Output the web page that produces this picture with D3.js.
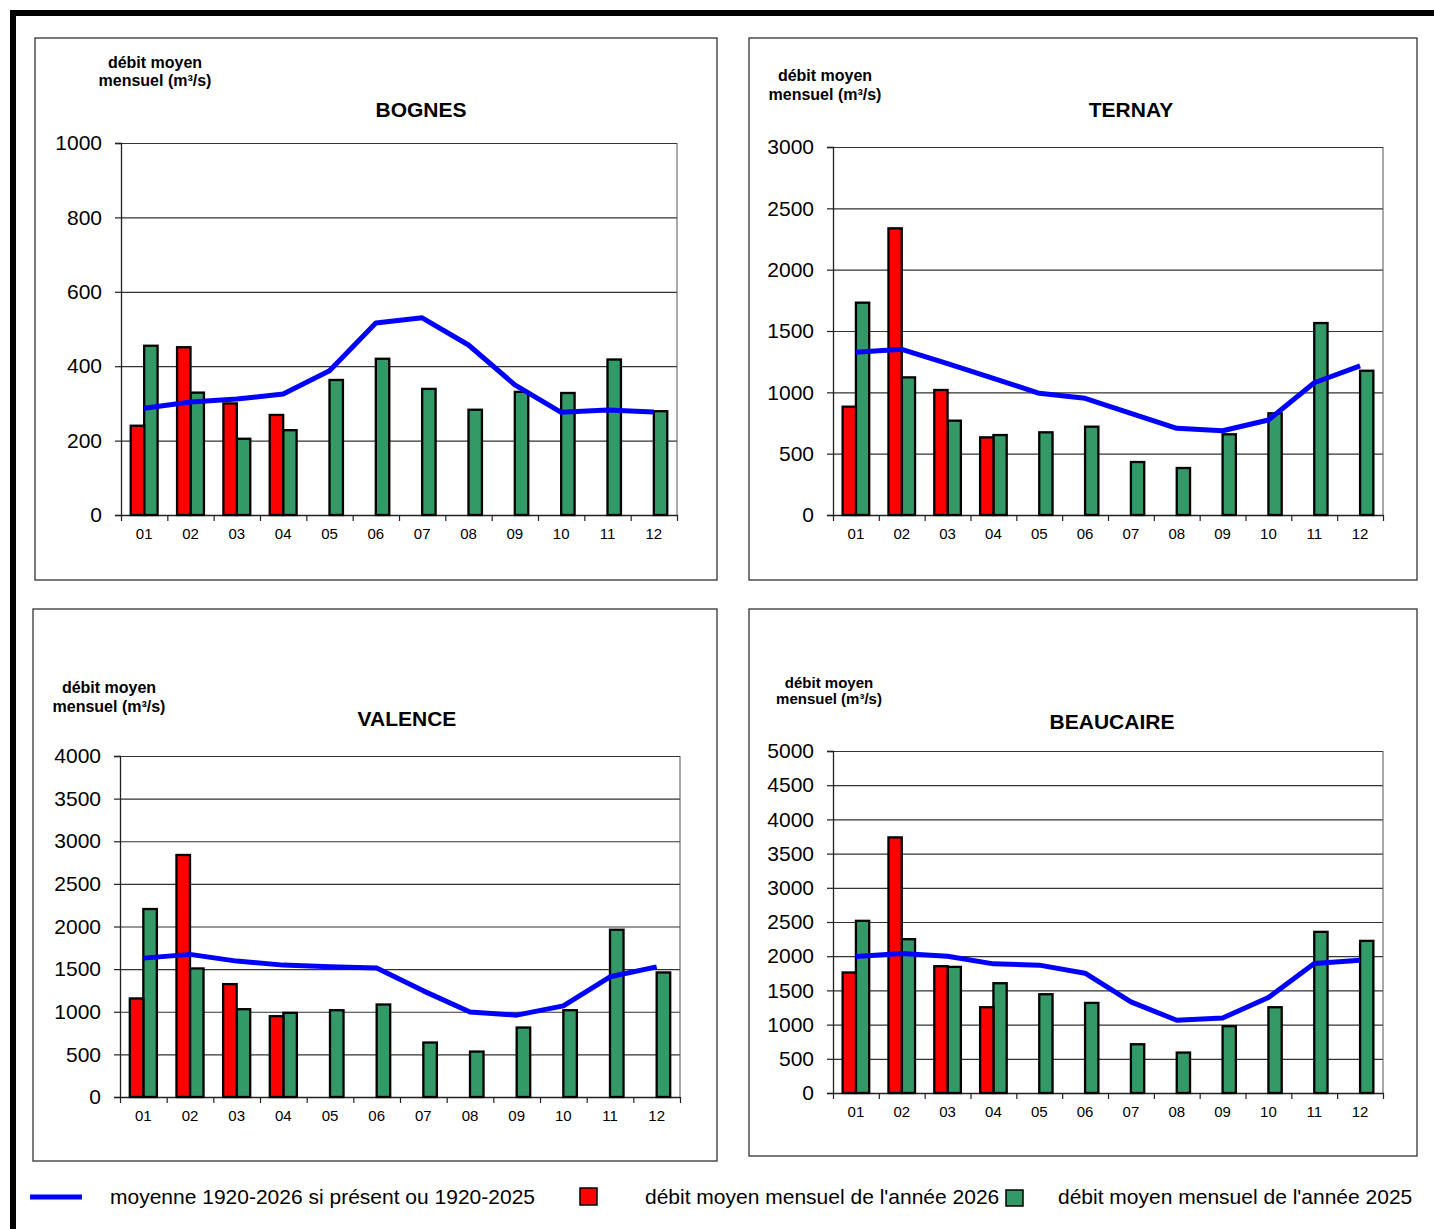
<!DOCTYPE html>
<html>
<head>
<meta charset="utf-8">
<script src="https://cdn.jsdelivr.net/npm/d3@7"></script>
<style>
    body { margin: 0; background: #fff; }
    text { font-family: "Liberation Sans", Arial, sans-serif; }
</style>
</head>
<body>
<div id="chart"></div>
<script>
// months on the x axis
var months = ["01", "02", "03", "04", "05", "06", "07", "08", "09", "10", "11", "12"];

// BOGNES
var bognes2026 = [240, 451, 300, 269];
var bognes2025 = [455, 329, 205, 228, 363, 420, 339, 283, 331, 328, 418, 279];
var bognesMean = [287, 304, 312, 325, 388, 516, 530, 457, 350, 276, 282, 277];
var bognesTicks = [0, 200, 400, 600, 800, 1000];

// TERNAY
var ternay2026 = [883, 2337, 1019, 633];
var ternay2025 = [1731, 1122, 769, 652, 674, 720, 432, 383, 658, 829, 1565, 1176];
var ternayMean = [1326, 1351, 1234, 1114, 992, 951, 829, 707, 687, 774, 1078, 1215];
var ternayTicks = [0, 500, 1000, 1500, 2000, 2500, 3000];

// VALENCE
var valence2026 = [1156, 2839, 1324, 948];
var valence2025 = [2205, 1508, 1030, 987, 1018, 1085, 639, 533, 815, 1018, 1962, 1461];
var valenceMean = [1629, 1673, 1594, 1547, 1527, 1512, 1245, 998, 960, 1069, 1410, 1527];
var valenceTicks = [0, 500, 1000, 1500, 2000, 2500, 3000, 3500, 4000];

// BEAUCAIRE
var beaucaire2026 = [1762, 3737, 1854, 1254];
var beaucaire2025 = [2517, 2249, 1844, 1605, 1444, 1317, 713, 591, 976, 1254, 2356, 2224];
var beaucaireMean = [1996, 2040, 2000, 1888, 1869, 1752, 1332, 1064, 1097, 1396, 1893, 1942];
var beaucaireTicks = [0, 500, 1000, 1500, 2000, 2500, 3000, 3500, 4000, 4500, 5000];

var legendLabels = ["moyenne 1920-2026 si présent ou 1920-2025",
    "débit moyen mensuel de l'année 2026",
    "débit moyen mensuel de l'année 2025"];

var RED = "#ff0000", GREEN = "#339966", BLUE = "#0000ff";

// layout of the four panels
var panels = [
    { name: "BOGNES", y26: bognes2026, y25: bognes2025, mean: bognesMean, ticks: bognesTicks,
      box: [35, 38, 717, 580], px: [121, 677], py: [515, 143], title: [421, 117], lab: [155, 68, 18, 16] },
    { name: "TERNAY", y26: ternay2026, y25: ternay2025, mean: ternayMean, ticks: ternayTicks,
      box: [749, 38, 1417, 580], px: [833, 1383], py: [515, 147], title: [1131, 117], lab: [825, 81, 19, 16] },
    { name: "VALENCE", y26: valence2026, y25: valence2025, mean: valenceMean, ticks: valenceTicks,
      box: [33, 609, 717, 1161], px: [120, 680], py: [1097, 756], title: [407, 726], lab: [109, 693, 19, 16] },
    { name: "BEAUCAIRE", y26: beaucaire2026, y25: beaucaire2025, mean: beaucaireMean, ticks: beaucaireTicks,
      box: [749, 609, 1417, 1156], px: [833, 1383], py: [1093, 751], title: [1112, 729], lab: [829, 688, 16, 15] }
];

function init() {
    var svg = d3.select("#chart")
        .append("svg")
        .attr("width", 1434)
        .attr("height", 1229);

    // outer thick frame (top and left)
    svg.append("rect").attr("x", 10).attr("y", 10).attr("width", 1424).attr("height", 6).attr("fill", "#000");
    svg.append("rect").attr("x", 10).attr("y", 10).attr("width", 6).attr("height", 1219).attr("fill", "#000");

    panels.forEach(function (p) { drawPanel(svg, p); });

    // legend
    var lg = svg.append("g");
    lg.append("line").attr("x1", 30).attr("x2", 82).attr("y1", 1197).attr("y2", 1197)
        .attr("stroke", BLUE).attr("stroke-width", 5);
    lg.append("text").attr("x", 110).attr("y", 1204).attr("font-size", 21).text(legendLabels[0]);
    lg.append("rect").attr("x", 580).attr("y", 1188).attr("width", 17).attr("height", 17)
        .attr("fill", RED).attr("stroke", "#000").attr("stroke-width", 1.5);
    lg.append("text").attr("x", 645).attr("y", 1204).attr("font-size", 21).text(legendLabels[1]);
    lg.append("rect").attr("x", 1006).attr("y", 1190).attr("width", 17).attr("height", 16)
        .attr("fill", GREEN).attr("stroke", "#000").attr("stroke-width", 1.5);
    lg.append("text").attr("x", 1058).attr("y", 1204).attr("font-size", 21).text(legendLabels[2]);
}

function drawPanel(svg, p) {
    var g = svg.append("g");

    g.append("rect")
        .attr("x", p.box[0]).attr("y", p.box[1])
        .attr("width", p.box[2] - p.box[0]).attr("height", p.box[3] - p.box[1])
        .attr("fill", "none").attr("stroke", "#333").attr("stroke-width", 1.3);

    var x = d3.scaleBand().domain(months).range(p.px).paddingInner(0).paddingOuter(0);
    var xb = d3.scaleLinear().domain([0, 12]).range(p.px);
    var y = d3.scaleLinear().domain([0, d3.max(p.ticks)]).range(p.py);
    var bw = x.bandwidth();
    var barW = bw * 0.29;

    // gridlines
    g.append("g")
        .attr("transform", "translate(" + p.px[0] + ",0)")
        .call(d3.axisLeft(y).tickValues(p.ticks).tickSize(-(p.px[1] - p.px[0])).tickFormat(""))
        .call(function (a) {
            a.select(".domain").remove();
            a.selectAll("line").attr("stroke", "#333").attr("stroke-width", 1.2);
        });

    // right border of plot area
    g.append("line")
        .attr("x1", p.px[1]).attr("x2", p.px[1])
        .attr("y1", p.py[1]).attr("y2", p.py[0])
        .attr("stroke", "#555").attr("stroke-width", 1);

    // y axis
    g.append("g")
        .attr("transform", "translate(" + p.px[0] + ",0)")
        .call(d3.axisLeft(y).tickValues(p.ticks).tickSize(6).tickPadding(13).tickFormat(d3.format("d")))
        .call(function (a) {
            a.select(".domain").attr("stroke", "#222").attr("stroke-width", 1.3);
            a.selectAll("line").attr("stroke", "#222").attr("stroke-width", 1.2);
            a.selectAll("text").attr("font-size", 21).attr("fill", "#000")
                .attr("font-family", "Liberation Sans, Arial, sans-serif");
        });

    // x axis: boundary ticks
    g.append("g")
        .attr("transform", "translate(0," + p.py[0] + ")")
        .call(d3.axisBottom(xb).tickValues(d3.range(13)).tickSize(6).tickSizeOuter(0).tickFormat(""))
        .call(function (a) {
            a.select(".domain").attr("stroke", "#222").attr("stroke-width", 1.3);
            a.selectAll("line").attr("stroke", "#222").attr("stroke-width", 1.2);
        });

    // x axis: labels
    g.append("g")
        .attr("transform", "translate(0," + p.py[0] + ")")
        .call(d3.axisBottom(x).tickSize(0).tickPadding(13))
        .call(function (a) {
            a.select(".domain").remove();
            a.selectAll("text").attr("font-size", 15).attr("fill", "#000")
                .attr("font-family", "Liberation Sans, Arial, sans-serif");
        });

    // bars 2025 (green, right of centre)
    g.append("g").selectAll("rect")
        .data(p.y25)
        .enter()
        .append("rect")
        .attr("x", function (d, i) { return x(months[i]) + bw / 2; })
        .attr("y", function (d) { return y(d); })
        .attr("width", barW)
        .attr("height", function (d) { return y(0) - y(d); })
        .attr("fill", GREEN).attr("stroke", "#000").attr("stroke-width", 2.3);

    // bars 2026 (red, left of centre)
    g.append("g").selectAll("rect")
        .data(p.y26)
        .enter()
        .append("rect")
        .attr("x", function (d, i) { return x(months[i]) + bw / 2 - barW; })
        .attr("y", function (d) { return y(d); })
        .attr("width", barW)
        .attr("height", function (d) { return y(0) - y(d); })
        .attr("fill", RED).attr("stroke", "#000").attr("stroke-width", 2.3);

    // mean line
    var line = d3.line()
        .x(function (d, i) { return x(months[i]) + bw / 2; })
        .y(function (d) { return y(d); });
    g.append("path")
        .datum(p.mean)
        .attr("d", line)
        .attr("fill", "none")
        .attr("stroke", BLUE)
        .attr("stroke-width", 5)
        .attr("stroke-linejoin", "round");

    // title
    g.append("text")
        .attr("x", p.title[0]).attr("y", p.title[1])
        .attr("text-anchor", "middle")
        .attr("font-size", 21).attr("font-weight", "bold")
        .text(p.name);

    // y unit label
    var lab = g.append("text")
        .attr("text-anchor", "middle")
        .attr("font-size", p.lab[3]).attr("font-weight", "bold");
    lab.append("tspan").attr("x", p.lab[0]).attr("y", p.lab[1]).text("débit moyen");
    lab.append("tspan").attr("x", p.lab[0]).attr("y", p.lab[1] + p.lab[2]).text("mensuel (m³/s)");
}

window.onload = init;
</script>
</body>
</html>
